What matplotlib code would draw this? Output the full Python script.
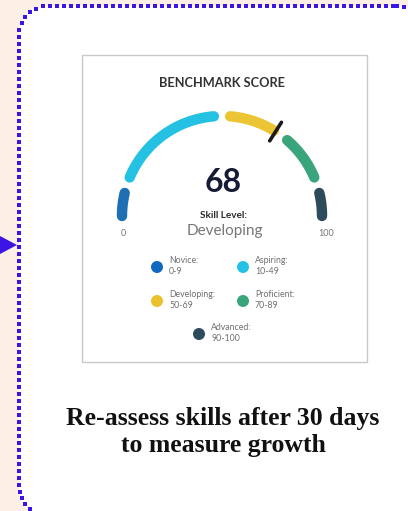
import numpy as np
import matplotlib
matplotlib.use('Agg')
import matplotlib.pyplot as plt
from matplotlib.patches import FancyBboxPatch, Rectangle, Polygon, Circle

# gauge data
score = 68
bounds = [0, 10, 50, 70, 90, 100]
level_names = ['Novice', 'Aspiring', 'Developing', 'Proficient', 'Advanced']
level_ranges = ['0-9', '10-49', '50-69', '70-89', '90-100']
arc_colors = ['#1f6fb4', '#24c1e3', '#ebc533', '#3aa47c', '#2c4b5b']
dot_colors = ['#1068c0', '#26c2e6', '#ebc12e', '#3aa47c', '#2c4b5b']
current_level = 'Developing'
caption = 'Re-assess skills after 30 days\nto measure growth'

W, H = 408, 511
fig = plt.figure(figsize=(W / 100, H / 100), dpi=100)
fig.patch.set_facecolor('#fcefe6')
ax = fig.add_axes([0, 0, 1, 1])
ax.set_xlim(0, W)
ax.set_ylim(H, 0)
ax.axis('off')

blue = '#3d14e6'

# outer card (runs off the right and bottom edges)
x0, y0, x1, y1, R = 19, 6, 426, 515, 29
ax.add_patch(FancyBboxPatch((x0, y0), x1 - x0, y1 - y0,
                            boxstyle='round,pad=0,rounding_size=%d' % R,
                            facecolor='white', edgecolor='none', zorder=1))


def rounded_outline(x0, y0, x1, y1, R, n=40):
    # polyline around the rounded rectangle (y axis points down)
    pts = []
    corners = [(x1 - R, y0 + R, -90, 0), (x1 - R, y1 - R, 0, 90),
               (x0 + R, y1 - R, 90, 180), (x0 + R, y0 + R, 180, 270)]
    for ccx, ccy, a0, a1 in corners:
        t = np.radians(np.linspace(a0, a1, n))
        pts.extend(zip(ccx + R * np.cos(t), ccy + R * np.sin(t)))
    pts.append(pts[0])
    return np.array(pts)


# dotted border: square dots every ~7 px along the outline
outline = rounded_outline(x0, y0, x1, y1, R)
seg = np.hypot(*np.diff(outline, axis=0).T)
dist = np.concatenate([[0], np.cumsum(seg)])
s = np.arange(0, dist[-1], 7.0)
dx = np.interp(s, dist, outline[:, 0])
dy = np.interp(s, dist, outline[:, 1])
ax.plot(dx, dy, linestyle='none', marker='s', markersize=2.3, color=blue,
        markeredgewidth=0, zorder=2)

# little arrow pointing into the card
ax.add_patch(Polygon([[0, 236], [0, 254], [17, 245]], closed=True,
                     facecolor=blue, edgecolor='none', zorder=2))

# inner grey frame
ax.add_patch(Rectangle((82, 55), 285, 307, facecolor='white',
                       edgecolor='#c9c9c9', linewidth=1.0, zorder=2))

# gauge
cx, cy, r = 222, 216, 100
pad = 2.6


def to_xy(v, rad):
    th = np.radians(180 - v * 1.8)
    return cx + rad * np.cos(th), cy - rad * np.sin(th)


for i in range(len(level_names)):
    a = bounds[i] + (pad if i > 0 else 0)
    b = bounds[i + 1] - (pad if i < len(level_names) - 1 else 0)
    vs = np.linspace(a, b, 80)
    x, y = to_xy(vs, r)
    ax.plot(x, y, color=arc_colors[i], linewidth=7.5, solid_capstyle='round', zorder=3)

# score marker
mx, my = to_xy(np.array([score, score]), np.array([r - 11, r + 11]))
ax.plot(mx, my, color='#1b1b1b', linewidth=2.6, solid_capstyle='round', zorder=4)

ax.text(222, 83, 'BENCHMARK SCORE', ha='center', va='center', fontsize=9.2,
        family='Lato', fontweight='bold', color='#333333', zorder=5)
ax.text(223, 182, str(score), ha='center', va='center', fontsize=23,
        family='Lato', fontweight='bold', color='#161b36', zorder=5)
ax.text(224, 216, 'Skill Level:', ha='center', va='center', fontsize=7.2,
        family='Lato', fontweight='bold', color='#2b2b2b', zorder=5)
ax.text(225, 231, current_level, ha='center', va='center', fontsize=11,
        family='Lato', color='#777777', zorder=5)
ax.text(123, 233, str(bounds[0]), ha='center', va='center', fontsize=6.5,
        family='Lato', color='#777777', zorder=5)
ax.text(326, 233, str(bounds[-1]), ha='center', va='center', fontsize=6.5,
        family='Lato', color='#777777', zorder=5)

# legend
legend_pos = [(157, 267), (243, 267), (157, 301), (243, 301), (199, 334)]
for i in range(len(level_names)):
    px, py = legend_pos[i]
    ax.add_patch(Circle((px, py), 6, facecolor=dot_colors[i], edgecolor='none', zorder=5))
    ax.text(px + 12, py - 1, level_names[i] + ':\n' + level_ranges[i], ha='left', va='center',
            fontsize=6.3, family='Lato', color='#6f6f6f', linespacing=1.15, zorder=5)

ax.text(223, 432, caption, ha='center', va='center', fontsize=18.5,
        family='Liberation Serif', fontweight='bold', color='#111111',
        linespacing=1.22, zorder=5)

fig.savefig('out.png', dpi=100, facecolor=fig.get_facecolor())
